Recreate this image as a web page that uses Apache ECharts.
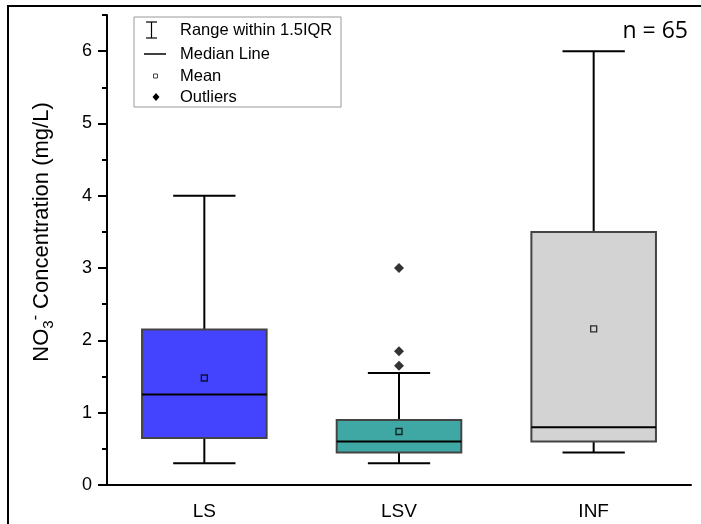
<!DOCTYPE html>
<html>
<head>
<meta charset="utf-8">
<script src="https://cdn.jsdelivr.net/npm/echarts@6/dist/echarts.min.js"></script>
<style>
html,body{margin:0;padding:0;background:#fff;}
#chart{width:701px;height:524px;}
</style>
</head>
<body>
<div id="chart"></div>
<script>
const categories = ['LS', 'LSV', 'INF'];
const whiskerLow = [0.3, 0.3, 0.45];
const q1 = [0.65, 0.45, 0.6];
const median = [1.25, 0.6, 0.8];
const q3 = [2.15, 0.9, 3.5];
const whiskerHigh = [4.0, 1.55, 6.0];
const means = [1.48, 0.74, 2.16];
const outlierCategory = ['LSV', 'LSV', 'LSV'];
const outlierValues = [3.0, 1.85, 1.65];
const yTicks = [0, 1, 2, 3, 4, 5, 6];
const yMinorTicks = [0.5, 1.5, 2.5, 3.5, 4.5, 5.5, 6.5];
const boxColors = ['#4444FF', '#40A8A4', '#D3D3D3'];

const FONT = "'Liberation Sans', Arial, sans-serif";

const boxData = categories.map((c, i) => [i, whiskerLow[i], q1[i], median[i], q3[i], whiskerHigh[i]]);

function renderBox(params, api) {
  const i = api.value(0);
  const band = api.size([1, 0])[0];
  const hw = band * 0.32;
  const cw = band * 0.16;
  const pLow = api.coord([i, api.value(1)]);
  const pQ1 = api.coord([i, api.value(2)]);
  const pMed = api.coord([i, api.value(3)]);
  const pQ3 = api.coord([i, api.value(4)]);
  const pHigh = api.coord([i, api.value(5)]);
  const x = pMed[0];
  const lineStyle = { stroke: '#000', lineWidth: 2 };
  return {
    type: 'group',
    children: [
      { type: 'line', shape: { x1: x, y1: pHigh[1], x2: x, y2: pQ3[1] }, style: lineStyle },
      { type: 'line', shape: { x1: x, y1: pLow[1], x2: x, y2: pQ1[1] }, style: lineStyle },
      { type: 'line', shape: { x1: x - cw, y1: pHigh[1], x2: x + cw, y2: pHigh[1] }, style: lineStyle },
      { type: 'line', shape: { x1: x - cw, y1: pLow[1], x2: x + cw, y2: pLow[1] }, style: lineStyle },
      { type: 'rect', shape: { x: x - hw, y: pQ3[1], width: hw * 2, height: pQ1[1] - pQ3[1] },
        style: { fill: boxColors[i], stroke: '#444', lineWidth: 2 } },
      { type: 'line', shape: { x1: x - hw, y1: pMed[1], x2: x + hw, y2: pMed[1] }, style: lineStyle }
    ]
  };
}

const chart = echarts.init(document.getElementById('chart'), null, { renderer: 'canvas' });

const legendX = 134, legendY = 17;
const itemYs = [30, 54, 76, 97];

chart.setOption({
  animation: false,
  backgroundColor: '#fff',
  grid: { left: 107, right: 10, top: 15, bottom: 39, containLabel: false },
  xAxis: {
    type: 'category',
    data: categories,
    boundaryGap: true,
    axisLine: { lineStyle: { color: '#000', width: 2 } },
    axisTick: { alignWithLabel: true, length: 9, lineStyle: { color: '#000', width: 2 } },
    axisLabel: { color: '#000', fontSize: 19, fontFamily: FONT, margin: 17 },
    splitLine: { show: false }
  },
  yAxis: [{
    type: 'value',
    min: 0,
    max: 6.5,
    axisLine: { show: true, lineStyle: { color: '#000', width: 2 } },
    axisTick: { show: true, length: 9, customValues: yTicks, lineStyle: { color: '#000', width: 2 } },
    axisLabel: { color: '#000', fontSize: 18, fontFamily: FONT, margin: 15, customValues: yTicks },
    splitLine: { show: false }
  }, {
    type: 'value',
    min: 0,
    max: 6.5,
    position: 'left',
    axisLine: { show: false },
    axisTick: { show: true, length: 5, customValues: yMinorTicks, lineStyle: { color: '#000', width: 2 } },
    axisLabel: { show: false },
    splitLine: { show: false }
  }],
  series: [
    {
      type: 'custom',
      renderItem: renderBox,
      encode: { x: 0, y: [1, 2, 3, 4, 5] },
      data: boxData,
      z: 2
    },
    {
      type: 'scatter',
      data: categories.map((c, i) => [c, means[i]]),
      symbol: 'rect',
      symbolSize: 6,
      itemStyle: { color: 'rgba(0,0,0,0)', borderColor: '#000', borderWidth: 1.3 },
      z: 5
    },
    {
      type: 'scatter',
      data: outlierCategory.map((c, i) => [c, outlierValues[i]]),
      symbol: 'diamond',
      symbolSize: 10,
      itemStyle: { color: '#000' },
      z: 5
    }
  ],
  graphic: [
    { type: 'rect', shape: { x: 8, y: 6, width: 760, height: 600 }, style: { fill: null, stroke: '#000', lineWidth: 2 }, silent: true },
    {
      type: 'text', x: 42, y: 232, rotation: Math.PI / 2,
      style: {
        text: '{a|NO}{sub|3}{sup|-}{a| Concentration (mg/L)}',
        align: 'center', verticalAlign: 'middle',
        rich: {
          a: { fontSize: 22, fontFamily: FONT, fill: '#000', lineHeight: 28 },
          sub: { fontSize: 15, fontFamily: FONT, fill: '#000', lineHeight: 15, verticalAlign: 'bottom' },
          sup: { fontSize: 16, fontFamily: FONT, fill: '#000', lineHeight: 16, verticalAlign: 'top' }
        }
      }
    },
    { type: 'text', x: 688, y: 31, style: { text: 'n = 65', font: "23px 'Open Sans', sans-serif", fill: '#000', align: 'right', verticalAlign: 'middle' } },
    { type: 'rect', shape: { x: legendX, y: legendY, width: 207, height: 90 }, style: { fill: '#fff', stroke: '#999', lineWidth: 1 }, z: 10 },
    { type: 'polyline', shape: { points: [[146, itemYs[0] - 8], [157, itemYs[0] - 8]] }, style: { stroke: '#000', lineWidth: 1.2 }, z: 11 },
    { type: 'polyline', shape: { points: [[151.5, itemYs[0] - 8], [151.5, itemYs[0] + 8]] }, style: { stroke: '#000', lineWidth: 1.2 }, z: 11 },
    { type: 'polyline', shape: { points: [[146, itemYs[0] + 8], [157, itemYs[0] + 8]] }, style: { stroke: '#000', lineWidth: 1.2 }, z: 11 },
    { type: 'line', shape: { x1: 144, y1: itemYs[1], x2: 166, y2: itemYs[1] }, style: { stroke: '#000', lineWidth: 1.5 }, z: 11 },
    { type: 'rect', shape: { x: 153.5, y: itemYs[2] - 2, width: 4, height: 4 }, style: { fill: '#fff', stroke: '#444', lineWidth: 1 }, z: 11 },
    { type: 'polygon', shape: { points: [[156, itemYs[3] - 4], [159.5, itemYs[3]], [156, itemYs[3] + 4], [152.5, itemYs[3]]] }, style: { fill: '#000' }, z: 11 },
    { type: 'text', x: 180, y: itemYs[0], style: { text: 'Range within 1.5IQR', font: '16.5px ' + FONT, fill: '#000', verticalAlign: 'middle' }, z: 11 },
    { type: 'text', x: 180, y: itemYs[1], style: { text: 'Median Line', font: '16.5px ' + FONT, fill: '#000', verticalAlign: 'middle' }, z: 11 },
    { type: 'text', x: 180, y: itemYs[2], style: { text: 'Mean', font: '16.5px ' + FONT, fill: '#000', verticalAlign: 'middle' }, z: 11 },
    { type: 'text', x: 180, y: itemYs[3], style: { text: 'Outliers', font: '16.5px ' + FONT, fill: '#000', verticalAlign: 'middle' }, z: 11 }
  ]
});
</script>
</body>
</html>
